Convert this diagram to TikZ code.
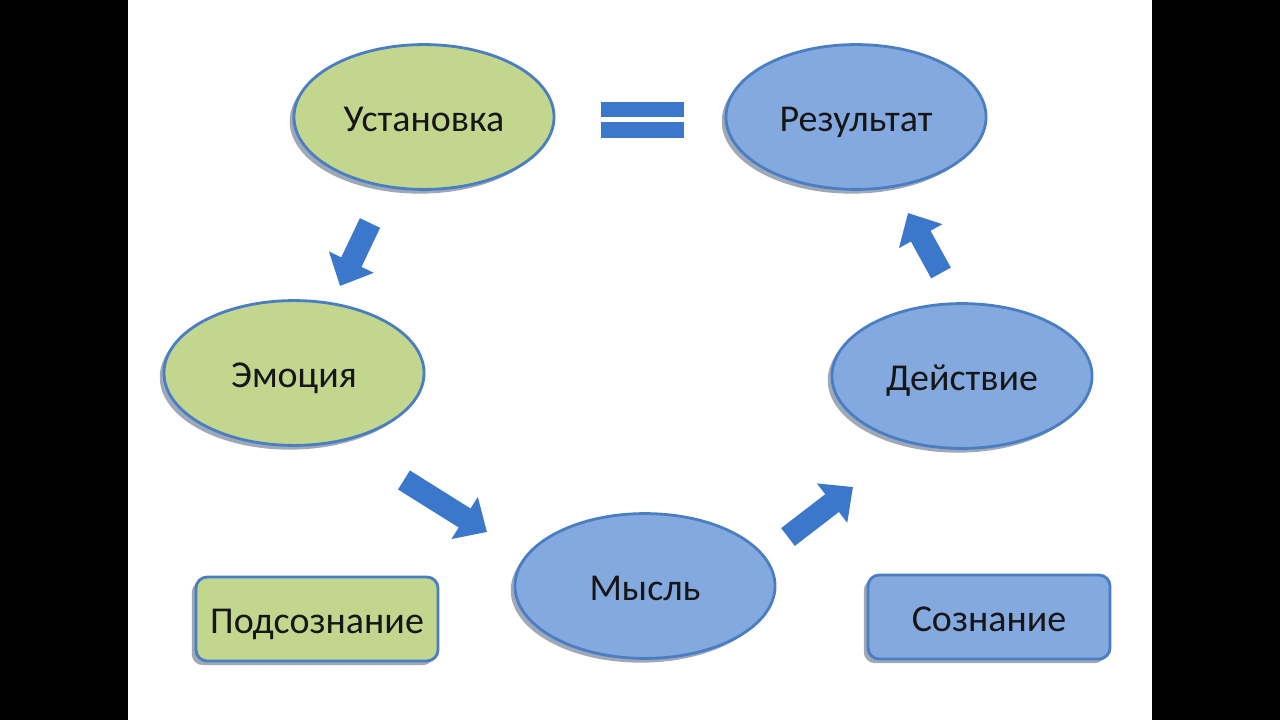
\documentclass[tikz,border=0pt]{standalone}
\usepackage{fontspec}
\setmainfont{Carlito}
\usetikzlibrary{positioning,calc,shapes.geometric,shadows,arrows.meta}
\definecolor{cycGreenFill}{HTML}{C2D68E}
\definecolor{cycBlueFill}{HTML}{84A9DE}
\definecolor{cycBlueLine}{HTML}{4A7EC4}
\definecolor{cycArrow}{HTML}{3B78CB}
\definecolor{cycShadow}{HTML}{5F6F88}
\definecolor{cycText}{HTML}{161616}

\tikzset{
  oval/.style={ellipse, draw=cycBlueLine, line width=2pt,
    minimum width=6.5cm, minimum height=3.62cm, text=cycText,
    font=\fontsize{27}{32}\selectfont,
    text height=25pt, text depth=5pt,
    drop shadow={shadow xshift=-3pt, shadow yshift=-3pt,
      fill=cycShadow, opacity=0.6}},
  tag/.style={rectangle, rounded corners=8pt, draw=cycBlueLine,
    line width=2pt, minimum width=6.05cm, minimum height=2.1cm,
    text=cycText, font=\fontsize{27}{32}\selectfont,
    text height=25pt, text depth=5pt,
    drop shadow={shadow xshift=-3pt, shadow yshift=-3pt,
      fill=cycShadow, opacity=0.6}},
  fatarrow/.style={draw=cycArrow, line width=0.56cm,
    -{Triangle[width=1.2cm, length=0.66cm]}},
}

\begin{document}
\begin{tikzpicture}[x=0.025cm, y=-0.025cm]

% --- FRAME (pixel units, y down) ---
\useasboundingbox (0,0) rectangle (1280,720);
\fill[black] (0,0) rectangle (1280,720);
\fill[white] (128,0) rectangle (1152,720);

% --- OVALS ---
% name / x / y / fill / text
\foreach \nm/\cx/\cy/\col/\txt in {%
  ust/424/117/cycGreenFill/Установка,
  res/856/117/cycBlueFill/Результат,
  emo/294/373/cycGreenFill/Эмоция,
  dej/962/376/cycBlueFill/Действие,
  mys/645/586/cycBlueFill/Мысль%
} {
  \node[oval, fill=\col] (\nm) at (\cx,\cy) {\txt};
}

% --- LEGEND BOXES ---
\node[tag, fill=cycGreenFill] (podsoz) at (317,619) {Подсознание};
\node[tag, fill=cycBlueFill] (soz) at (989,617) {Сознание};

% --- EQUAL SIGN ---
\fill[cycArrow] (601,102) rectangle (684,117);
\fill[cycArrow] (601,122) rectangle (684,138);

% --- BLOCK ARROWS ---
\coordinate (a1s) at (370,223);
\coordinate (a1e) at (340,286);
\coordinate (a2s) at (404,480);
\coordinate (a2e) at (487,532);
\coordinate (a3s) at (788,537);
\coordinate (a3e) at (853,487);
\coordinate (a4s) at (941,273);
\coordinate (a4e) at (908,213);
\foreach \k in {1,...,4} {
  \draw[fatarrow] (a\k s) -- (a\k e);
}

\end{tikzpicture}
\end{document}
